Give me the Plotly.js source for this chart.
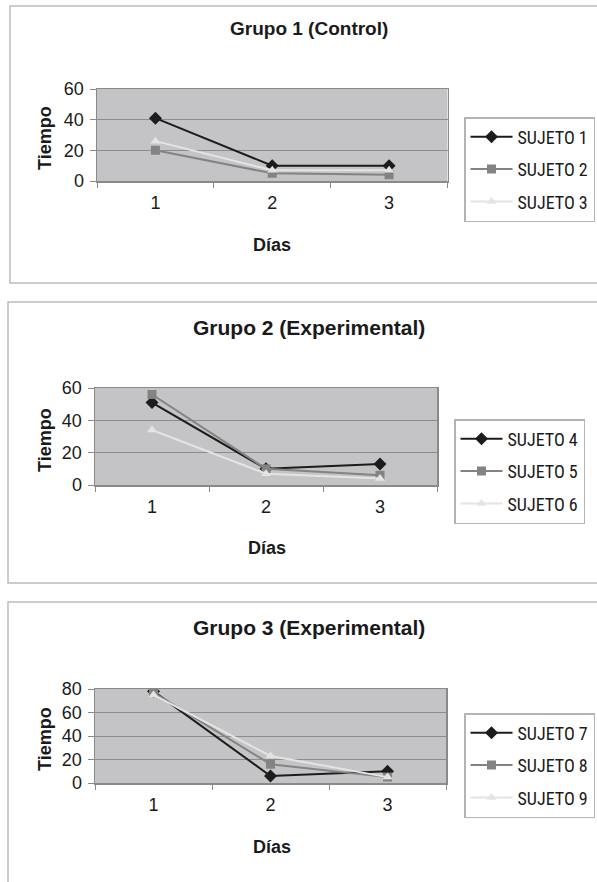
<!DOCTYPE html>
<html>
<head>
<meta charset="utf-8">
<script src="https://cdn.plot.ly/plotly-3.0.1.min.js"></script>
<style>html,body{margin:0;padding:0;background:#fff;}#chart{width:597px;height:882px;}</style>
</head>
<body>
<div id="chart"></div>
<script>
// Data
const dias = ['1', '2', '3'];
const titulos = ['Grupo 1 (Control)', 'Grupo 2 (Experimental)', 'Grupo 3 (Experimental)'];
const sujetos1 = ['SUJETO 1', 'SUJETO 2', 'SUJETO 3'];
const sujetos2 = ['SUJETO 4', 'SUJETO 5', 'SUJETO 6'];
const sujetos3 = ['SUJETO 7', 'SUJETO 8', 'SUJETO 9'];
const grupo1 = [[41, 10, 10], [20, 5, 4], [26, 7, 7]];
const grupo2 = [[51, 10, 13], [56, 10, 6], [34, 7, 4]];
const grupo3 = [[78, 6, 10], [77, 16, 5], [75, 23, 5]];
const yMax = [60, 60, 80];

const W = 597, H = 882;
const px = v => v / W;
const py = v => 1 - v / H;
const FONT = 'Liberation Sans, Arial, sans-serif';
const LEGFONT = 'Liberation Sans Narrow, Arial Narrow, Roboto Condensed, Liberation Sans, Arial, sans-serif';
const TXT = '#1a1a1a';

const colores = ['#1c1c1c', '#838383', '#e4e4e4'];
const simbolos = ['diamond', 'square', 'triangle-up'];

const grupos = [grupo1, grupo2, grupo3];
const nombres = [sujetos1, sujetos2, sujetos3];

// layout geometry per panel (pixels)
const geo = [
  {pl: 97, pr: 447.5, pt: 89, pb: 181, title: 29, tfs: 19, dias: 245, diasX: 271.5, tiempo: 138, legL: 464, legT: 117, border: [10, 6, 283]},
  {pl: 95, pr: 437, pt: 388, pb: 485, title: 327, tfs: 21, dias: 548, diasX: 267, tiempo: 440, legL: 454, legT: 419, border: [8, 302, 583]},
  {pl: 95, pr: 446, pt: 689, pb: 783, title: 627, tfs: 21, dias: 847, diasX: 271.5, tiempo: 739, legL: 464, legT: 713, border: [8, 602, 900]}
];

const traces = [];
const layout = {
  width: W, height: H,
  margin: {l: 0, r: 0, t: 0, b: 0, autoexpand: false},
  paper_bgcolor: '#ffffff',
  plot_bgcolor: '#c4c4c6',
  font: {family: FONT, color: TXT, size: 16},
  showlegend: true,
  annotations: [],
  shapes: []
};

grupos.forEach((g, gi) => {
  const sfx = gi === 0 ? '' : String(gi + 1);
  const legName = 'legend' + sfx;
  g.forEach((serie, si) => {
    traces.push({
      type: 'scatter', mode: 'lines+markers',
      x: dias, y: serie, name: nombres[gi][si],
      xaxis: 'x' + sfx, yaxis: 'y' + sfx,
      legend: legName, legendgroup: 'g' + gi + 's' + si,
      line: {color: colores[si], width: 2},
      marker: {symbol: simbolos[si], color: colores[si], size: si === 0 ? 10 : 9, line: {width: 0}},
      hoverinfo: 'x+y+name'
    });
  });
  const G = geo[gi];
  layout['xaxis' + sfx] = {
    domain: [px(G.pl), px(G.pr)],
    anchor: 'y' + sfx,
    type: 'category',
    range: [-0.5, 2.5],
    tickson: 'boundaries',
    ticks: 'outside', ticklen: 5, tickcolor: '#8a8a8a', tickwidth: 1,
    ticklabelstandoff: 5,
    showgrid: false, zeroline: false,
    showline: true, linecolor: '#8a8a8a', linewidth: 1.5, mirror: true,
    tickfont: {size: 18, color: TXT, family: FONT},
    fixedrange: true
  };
  layout['yaxis' + sfx] = {
    domain: [py(G.pb), py(G.pt)],
    anchor: 'x' + sfx,
    range: [0, yMax[gi]],
    dtick: 20, tick0: 0,
    ticks: 'outside', ticklen: 6, tickcolor: '#8a8a8a', tickwidth: 1,
    ticklabelstandoff: 2,
    showgrid: true, gridcolor: '#8c8c8c', gridwidth: 1,
    zeroline: false,
    showline: true, linecolor: '#8a8a8a', linewidth: 1.5, mirror: true,
    tickfont: {size: 18, color: TXT, family: FONT},
    fixedrange: true
  };
  layout[legName] = {
    x: px(G.legL), y: py(G.legT), xanchor: 'left', yanchor: 'top',
    bgcolor: '#ffffff', bordercolor: '#b4b4b4', borderwidth: 1.5,
    font: {size: 18, color: TXT, family: LEGFONT},
    itemwidth: 42, tracegroupgap: 6,
    traceorder: 'grouped'
  };
  layout.annotations.push(
    {text: '<b>' + titulos[gi] + '</b>', x: px(309), y: py(G.title), xref: 'paper', yref: 'paper',
     xanchor: 'center', yanchor: 'middle', showarrow: false, font: {size: G.tfs, color: TXT, family: FONT}},
    {text: '<b>Días</b>', x: px(G.diasX), y: py(G.dias), xref: 'paper', yref: 'paper',
     xanchor: 'center', yanchor: 'middle', showarrow: false, font: {size: 18, color: TXT, family: FONT}},
    {text: '<b>Tiempo</b>', x: px(45), y: py(G.tiempo), xref: 'paper', yref: 'paper', textangle: -90,
     xanchor: 'center', yanchor: 'middle', showarrow: false, font: {size: 18, color: TXT, family: FONT}}
  );
  const B = G.border;
  layout.shapes.push({type: 'rect', xref: 'paper', yref: 'paper',
    x0: px(B[0]), x1: px(640), y0: py(B[2]), y1: py(B[1]),
    line: {color: '#bcbcbc', width: 1.5}, fillcolor: 'rgba(0,0,0,0)', layer: 'below'});
});

Plotly.newPlot('chart', traces, layout, {displayModeBar: false, staticPlot: true});
</script>
</body>
</html>
